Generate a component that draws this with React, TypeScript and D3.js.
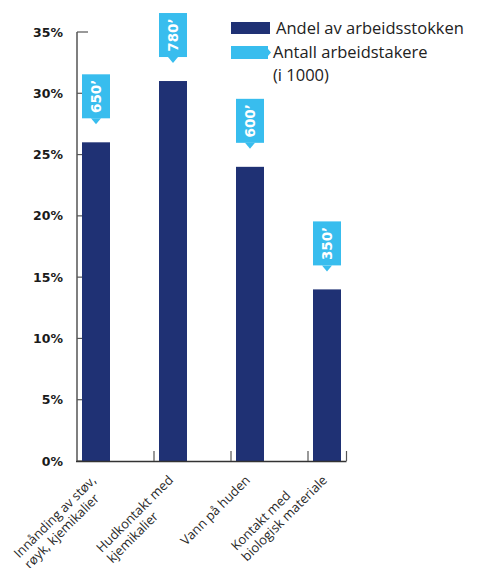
import React from "react";
import * as d3 from "d3";

const categories: string[][] = [
  ["Innånding av støv,", "røyk, kjemikalier"],
  ["Hudkontakt med", "kjemikalier"],
  ["Vann på huden"],
  ["Kontakt med", "biologisk materiale"],
];
const shares: number[] = [26, 31, 24, 14];
const workers: number[] = [650, 780, 600, 350];
const yTicks: number[] = [0, 5, 10, 15, 20, 25, 30, 35];
const legendLabels: string[] = ["Andel av arbeidsstokken", "Antall arbeidstakere", "(i 1000)"];

const NAVY = "#1f3174";
const SKY = "#38bdee";
const W = 489;
const H = 568;

const labelFont = '13px "Open Sans"';
let ctx: CanvasRenderingContext2D | null = null;
function measure(t: string): number {
  if (!ctx) ctx = document.createElement("canvas").getContext("2d");
  if (!ctx) return t.length * 6.5;
  ctx.font = labelFont;
  return ctx.measureText(t).width;
}

export default function App() {
  const x = d3
    .scaleBand<number>()
    .domain(d3.range(categories.length))
    .range([77, 385])
    .paddingInner(0)
    .paddingOuter(0);
  const y = d3.scaleLinear().domain([0, 35]).range([461, 32]);
  const step = x.step();
  const axisEnd = (x(categories.length - 1) as number) + step / 2;
  const barW = 28;
  const barOff = 5;
  const lineH = 15;

  return (
    <svg
      width={W}
      height={H}
      style={{ position: "absolute", left: 0, top: 0, background: "#fff" }}
    >
      {/* y axis */}
      <line x1={77} x2={77} y1={y(35)} y2={y(0)} stroke="#555" strokeWidth={1.5} />
      {yTicks.map((t) => (
        <g key={t}>
          <line
            x1={77}
            x2={t === 35 ? 88 : 82}
            y1={y(t)}
            y2={y(t)}
            stroke="#555"
            strokeWidth={1.2}
          />
          <text
            x={63}
            y={y(t)}
            dy="0.36em"
            textAnchor="end"
            fontFamily='"DejaVu Sans", sans-serif'
            fontWeight="bold"
            fontSize={12.5}
            fill="#1a1a1a"
          >
            {t}%
          </text>
        </g>
      ))}

      {/* bars */}
      {shares.map((v, i) => (
        <rect
          key={i}
          x={(x(i) as number) + barOff}
          y={y(v)}
          width={barW}
          height={y(0) - y(v)}
          fill={NAVY}
        />
      ))}

      {/* x axis */}
      <line x1={76} x2={axisEnd} y1={y(0) + 0.5} y2={y(0) + 0.5} stroke="#333" strokeWidth={1.5} />
      {categories.map((_, i) => {
        const tx = i < categories.length - 1 ? (x(i) as number) + step : axisEnd;
        return (
          <line key={i} x1={tx} x2={tx} y1={y(0)} y2={y(0) - 10} stroke="#555" strokeWidth={1.2} />
        );
      })}

      {/* callouts */}
      {workers.map((w, i) => {
        const bx = (x(i) as number) + barOff;
        const cx = bx + barW / 2;
        const top = y(shares[i]);
        const boxBottom = top - 24;
        const boxTop = boxBottom - 44;
        return (
          <g key={i}>
            <rect x={bx} y={boxTop} width={barW} height={44} fill={SKY} />
            <path
              d={`M${cx - 5},${boxBottom} L${cx + 5},${boxBottom} L${cx},${boxBottom + 6} Z`}
              fill={SKY}
            />
            <text
              transform={`translate(${cx},${(boxTop + boxBottom) / 2}) rotate(-90)`}
              textAnchor="middle"
              dy="0.36em"
              fill="#fff"
              fontFamily='"DejaVu Sans", sans-serif'
              fontWeight="bold"
              fontSize={13.5}
            >
              {w}’
            </text>
          </g>
        );
      })}

      {/* x labels */}
      {categories.map((lines, i) => {
        const cx = (x(i) as number) + barOff + barW / 2;
        const widths = lines.map(measure);
        const maxW = d3.max(widths) as number;
        const k = widths.indexOf(maxW);
        return (
          <g key={i} transform={`translate(${cx + 1},${481}) rotate(-45)`}>
            {lines.map((l, j) => (
              <text
                key={j}
                x={-maxW}
                y={(j - k) * lineH}
                textAnchor="start"
                fontFamily='"Open Sans", sans-serif'
                fontSize={13}
                fill="#2a2a2a"
              >
                {l}
              </text>
            ))}
          </g>
        );
      })}

      {/* legend */}
      <rect x={231} y={22} width={39} height={12} fill={NAVY} />
      <path d="M231,46 L268,46 L268,49 L271,52.5 L268,56 L268,59 L231,59 Z" fill={SKY} />
      <text x={276} y={34} fontFamily='"Open Sans", sans-serif' fontSize={16.5} fill="#222">
        {legendLabels[0]}
      </text>
      <text x={273} y={58} fontFamily='"Open Sans", sans-serif' fontSize={16.5} fill="#222">
        {legendLabels[1]}
      </text>
      <text x={273} y={81} fontFamily='"Open Sans", sans-serif' fontSize={16.5} fill="#222">
        {legendLabels[2]}
      </text>
    </svg>
  );
}
